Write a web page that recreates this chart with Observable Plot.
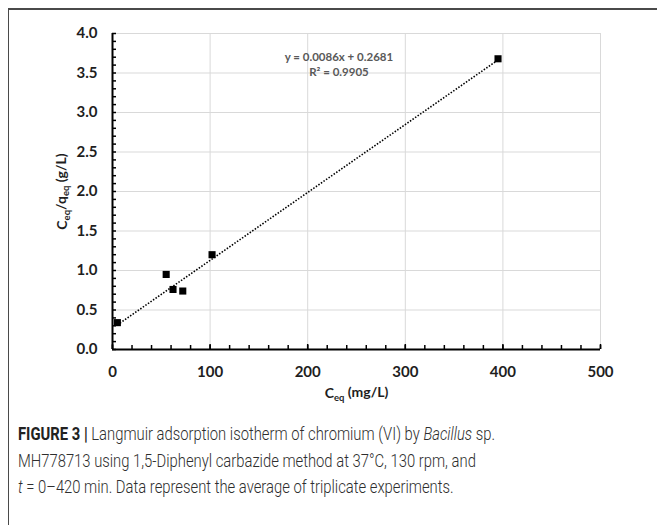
<!DOCTYPE html>
<html><head><meta charset="utf-8">
<script src="https://cdn.jsdelivr.net/npm/d3@7"></script>
<script src="https://cdn.jsdelivr.net/npm/@observablehq/plot@0.6"></script>
<style>
body{margin:0;background:#fff;}
#fig{position:relative;width:657px;height:525px;overflow:hidden;background:#fff;}
#frame{position:absolute;left:8px;top:8px;width:700px;height:600px;border-top:2px solid #4a4a4a;border-left:1.5px solid #4a4a4a;}
#chart{position:absolute;left:0;top:0;}
#cap{position:absolute;left:18px;top:421px;font-family:Roboto,"Liberation Sans",sans-serif;font-weight:300;font-size:18px;line-height:26.5px;color:#2e2e2e;white-space:nowrap;transform-origin:0 0;}
#cap span{display:block;}
#cap b{font-weight:700;color:#222;}
</style></head>
<body>
<div id="fig">
  <div id="frame"></div>
  <div id="chart"></div>
  <div id="cap"><span id="l1"><b>FIGURE 3 |</b> Langmuir adsorption isotherm of chromium (VI) by <i>Bacillus</i> sp.</span><span>MH778713 using 1,5-Diphenyl carbazide method at 37°C, 130 rpm, and</span><span><i>t</i> = 0–420 min. Data represent the average of triplicate experiments.</span></div>
</div>
<script>
// Data
const ceq = [5, 55, 62, 72, 102, 395];                    // C_eq (mg/L)
const ceqOverQeq = [0.34, 0.95, 0.76, 0.74, 1.20, 3.68];  // C_eq/q_eq (g/L)
const slope = 0.0086;
const intercept = 0.2681;
const equationLabel = "y = 0.0086x + 0.2681";
const r2Label = "R² = 0.9905";
const xTicks = [0, 100, 200, 300, 400, 500];
const yTicks = [0, 0.5, 1.0, 1.5, 2.0, 2.5, 3.0, 3.5, 4.0];
const xMinorTicks = d3.range(0, 501, 20);
const yMinorTicks = d3.range(0, 41, 1).map(d => d / 10);
const xTitle = "Ceq (mg/L)";
const yTitle = "Ceq/qeq (g/L)";

const points = ceq.map((x, i) => ({x, y: ceqOverQeq[i]}));
const xr = d3.extent(ceq);
const trend = xr.map(x => ({x, y: slope * x + intercept}));

const font = "Lato";
const labelColor = "#1e1e1e";

const plot = Plot.plot({
  width: 657,
  height: 410,
  marginLeft: 112,
  marginRight: 57,
  marginTop: 33,
  marginBottom: 61,
  x: {domain: [0, 500]},
  y: {domain: [0, 4]},
  style: {fontFamily: font, background: "transparent", overflow: "visible"},
  marks: [
    Plot.gridX(xTicks.slice(1), {stroke: "#d9d9d9", strokeOpacity: 1, strokeWidth: 1}),
    Plot.gridY(yTicks.slice(1), {stroke: "#d9d9d9", strokeOpacity: 1, strokeWidth: 1}),
    // inward ticks
    Plot.axisY(yMinorTicks, {label: null, tickSize: 4, dx: 4, tickFormat: () => "", stroke: "#000", strokeWidth: 1.5}),
    Plot.axisX(xMinorTicks, {label: null, tickSize: 4, dy: -4, tickFormat: () => "", stroke: "#000", strokeWidth: 1.5}),
    Plot.axisX(xTicks, {label: null, tickSize: 5, dy: -5, tickFormat: () => "", stroke: "#000", strokeWidth: 1.5}),
    // labels
    Plot.axisY(yTicks, {label: null, tickSize: 0, tickPadding: 15, tickFormat: d3.format(".1f"), fontFamily: font, fontSize: 15, fontWeight: "bold", fill: labelColor}),
    Plot.axisX(xTicks, {label: null, tickSize: 0, tickPadding: 17, tickFormat: d3.format("d"), fontFamily: font, fontSize: 15, fontWeight: "bold", fill: labelColor}),
    // axis lines
    Plot.ruleX([0], {stroke: "#000", strokeWidth: 2}),
    Plot.ruleY([0], {stroke: "#000", strokeWidth: 2}),
    // dotted trendline
    Plot.line(trend, {x: "x", y: "y", stroke: "#000", strokeWidth: 1.6, strokeLinecap: "butt", strokeDasharray: "1.5,1.6"}),
    // points
    Plot.dot(points, {x: "x", y: "y", symbol: "square", r: 4, fill: "#000", stroke: null}),
    // equation
    Plot.text([equationLabel], {x: 232, y: 3.70, text: d => d, fontFamily: font, fontSize: 11.5, fontWeight: "bold", fill: "#595959", textAnchor: "middle"}),
    Plot.text([r2Label], {x: 232, y: 3.51, text: d => d, fontFamily: font, fontSize: 11.5, fontWeight: "bold", fill: "#595959", textAnchor: "middle"}),
    // axis titles
    Plot.text([xTitle], {frameAnchor: "bottom", dy: 44, text: d => d, fontFamily: font, fontSize: 14, fontWeight: "bold", fill: labelColor, textAnchor: "middle", lineAnchor: "middle"}),
    Plot.text([yTitle], {frameAnchor: "left", dx: -50, rotate: -90, text: d => d, fontFamily: font, fontSize: 14, fontWeight: "bold", fill: labelColor, textAnchor: "middle", lineAnchor: "middle"})
  ]
});

// subscripts for "eq"
function subscriptify(node) {
  const s = node.textContent;
  const parts = s.split(/(eq)/);
  const sel = d3.select(node);
  sel.text(null);
  let shifted = false;
  parts.forEach(p => {
    if (!p) return;
    if (p === "eq") {
      sel.append("tspan").attr("font-size", "9.5px").attr("dy", "0.3em").text("eq");
      shifted = true;
    } else {
      const t = sel.append("tspan").text(p);
      if (shifted) { t.attr("dy", "-0.25em"); shifted = false; }
    }
  });
}
d3.select(plot).selectAll("text").each(function() {
  const t = this.textContent;
  if (t === xTitle || t === yTitle) subscriptify(this);
});

document.getElementById("chart").appendChild(plot);

// condense caption to the reference line length
const cap = document.getElementById("cap");
const l1 = document.getElementById("l1");
const range = document.createRange();
range.selectNodeContents(l1);
const w = range.getBoundingClientRect().width;
if (w > 0) cap.style.transform = `scaleX(${477 / w})`;
</script>
</body></html>
